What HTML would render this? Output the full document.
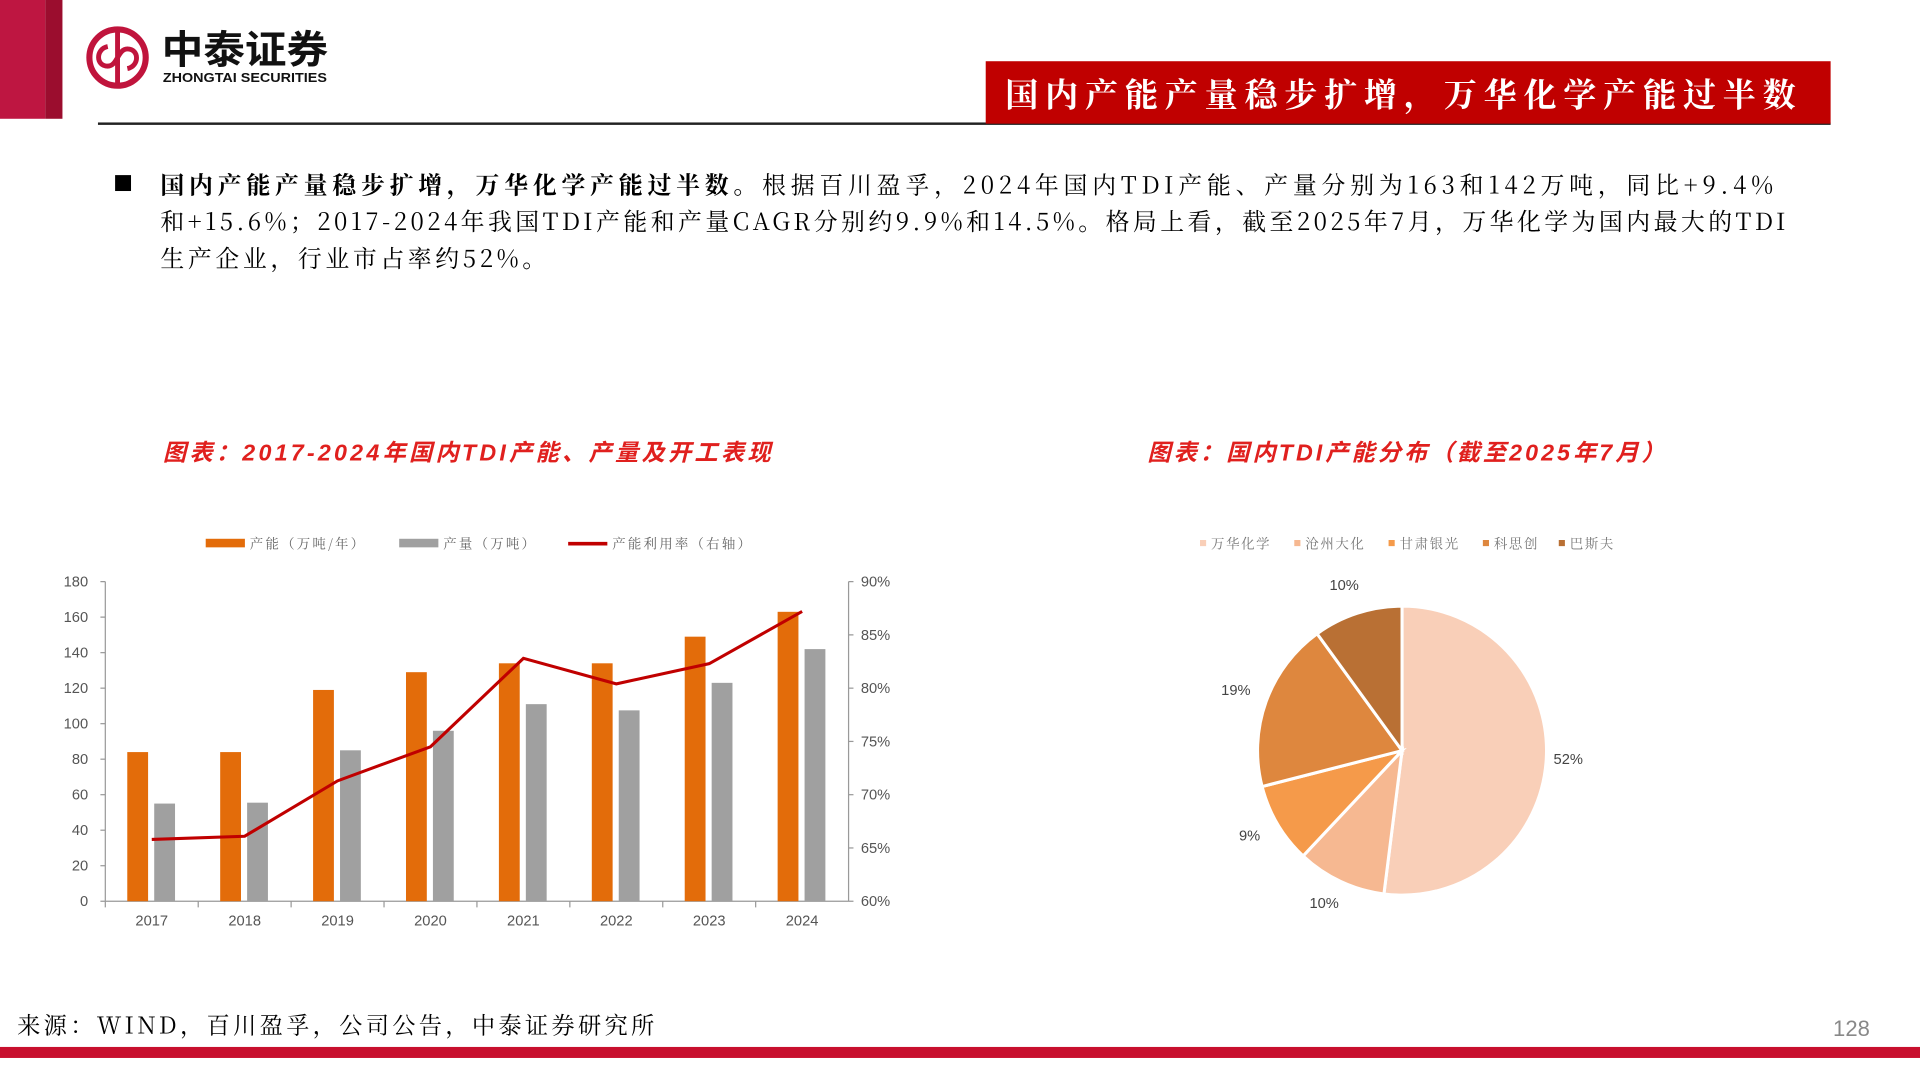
<!DOCTYPE html>
<html><head><meta charset="utf-8">
<style>
html,body{margin:0;padding:0;width:1920px;height:1080px;overflow:hidden;background:#fff}
#wrap{position:absolute;left:0;top:0;width:1568px;height:882px;transform:scale(1.22449);transform-origin:0 0;font-family:"Liberation Sans","Noto Sans CJK SC",sans-serif}
.abs{position:absolute}
.fit{white-space:nowrap}
.body{font-family:"Noto Serif CJK SC",serif;font-size:19.5px;color:#000;line-height:30px}
.ctitle{font-family:"Liberation Sans","Noto Sans CJK SC",sans-serif;font-style:italic;font-weight:bold;color:#E0201E;font-size:19px}
</style></head><body>
<div id="wrap">
<div class="abs" style="left:0;top:0;width:37px;height:97px;background:#BE1641"></div>
<div class="abs" style="left:37px;top:0;width:14px;height:97px;background:#9B0D2E"></div>
<svg class="abs" style="left:68px;top:20px" width="220" height="56">
<circle cx="28" cy="27" r="23" fill="none" stroke="#C0143C" stroke-width="5"/>
<path d="M28 6 V48 M20 18 C10 20 10 34 20 34 C28 34 28 20 36 20 C46 20 46 34 36 36" fill="none" stroke="#C0143C" stroke-width="4"/>
<text x="64" y="32" font-size="32" font-weight="bold" fill="#111" font-family="Noto Sans CJK SC,sans-serif" textLength="136" lengthAdjust="spacingAndGlyphs">中泰证券</text>
<text x="65" y="47" font-size="10.5" font-weight="bold" fill="#111" font-family="Liberation Sans,sans-serif" textLength="134" lengthAdjust="spacingAndGlyphs">ZHONGTAI SECURITIES</text>
</svg>
<div class="abs" style="left:80px;top:100px;width:1415px;height:2px;background:#222"></div>
<div class="abs" style="left:805px;top:50px;width:690px;height:51px;background:#C00000"></div>
<div class="abs fit" data-fit="651" style="left:821px;top:50px;color:#fff;font-family:'Noto Serif CJK SC',serif;font-weight:bold;font-size:27px;line-height:51px">国内产能产量稳步扩增，万华化学产能过半数</div>
<div class="abs" style="left:94px;top:143px;width:13px;height:13px;background:#000"></div>
<div class="abs body fit" data-fit="1321" style="left:131px;top:135px"><b>国内产能产量稳步扩增，万华化学产能过半数。</b>根据百川盈孚，2024年国内TDI产能、产量分别为163和142万吨，同比+9.4%</div>
<div class="abs body fit" data-fit="1330" style="left:131px;top:165px">和+15.6%；2017-2024年我国TDI产能和产量CAGR分别约9.9%和14.5%。格局上看，截至2025年7月，万华化学为国内最大的TDI</div>
<div class="abs body fit" data-fit="318" style="left:131px;top:195px">生产企业，行业市占率约52%。</div>
<div class="abs ctitle fit" data-fit="499" style="left:133px;top:355px">图表：2017-2024年国内TDI产能、产量及开工表现</div>
<div class="abs ctitle fit" data-fit="425" style="left:937px;top:355px">图表：国内TDI产能分布（截至2025年7月）</div>
<svg id="bar" class="abs" style="left:0;top:420px" width="780" height="350"></svg>
<svg id="pie" class="abs" style="left:940px;top:420px" width="440" height="340"></svg>
<div class="abs fit" data-fit="523" style="left:14px;top:823px;font-size:19px;font-family:'Noto Serif CJK SC',serif">来源：WIND，百川盈孚，公司公告，中泰证券研究所</div>
<div class="abs" style="left:1497px;top:830px;font-size:18px;color:#888">128</div>
<div class="abs" style="left:0;top:855px;width:1568px;height:9px;background:#C8102E"></div>
</div>
<script>
const NS='http://www.w3.org/2000/svg';
const years=['2017','2018','2019','2020','2021','2022','2023','2024'];
const capacity=[84,84,119,129,134,134,149,163];
const output=[55,55.5,85,96,111,107.5,123,142];
const utilization=[65.8,66.1,71.3,74.5,82.8,80.4,82.3,87.2];
const leftTicks=[0,20,40,60,80,100,120,140,160,180];
const rightTicks=[60,65,70,75,80,85,90];
const pieLabels=['万华化学','沧州大化','甘肃银光','科思创','巴斯夫'];
const pieValues=[52,10,9,19,10];
const pieColors=['#F9CFB8','#F6B891','#F59A4A','#DE873E','#B97034'];
function mk(p,t,a){const e=document.createElementNS(NS,t);for(const k in a)e.setAttribute(k,a[k]);p.appendChild(e);return e}
document.querySelectorAll('[data-fit]').forEach(el=>{
const target=+el.getAttribute('data-fit');const w=el.getBoundingClientRect().width/1.22449;
const n=el.textContent.length;el.style.letterSpacing=((target-w)/n)+'px';});
const bar=document.getElementById('bar');
const X0=86,X1=693,Y0=316,Y1=55;
const step=(X1-X0)/years.length;
const xc=i=>X0+step*(i+0.5);
const yl=v=>Y0-(v/180)*(Y0-Y1);
const yr=v=>Y0-((v-60)/30)*(Y0-Y1);
const ax=mk(bar,'g',{});

mk(ax,'line',{x1:X0,y1:Y1,x2:X0,y2:Y0,stroke:'#999'});
mk(ax,'line',{x1:X1,y1:Y1,x2:X1,y2:Y0,stroke:'#999'});
mk(ax,'line',{x1:X0,y1:Y0,x2:X1,y2:Y0,stroke:'#999'});
leftTicks.forEach(v=>{mk(ax,'line',{x1:X0-4,y1:yl(v),x2:X0,y2:yl(v),stroke:'#999'});
const t=mk(ax,'text',{x:X0-14,y:yl(v)+4,'text-anchor':'end','font-size':12,fill:'#555'});t.textContent=v;
});
rightTicks.forEach(v=>{mk(ax,'line',{x1:X1,y1:yr(v),x2:X1+4,y2:yr(v),stroke:'#999'});
const t=mk(ax,'text',{x:X1+10,y:yr(v)+4,'font-size':12,fill:'#555'});t.textContent=v+'%';
});
years.forEach((y,i)=>{mk(ax,'line',{x1:X0+step*i,y1:Y0,x2:X0+step*i,y2:Y0+5,stroke:'#999'});
const t=mk(ax,'text',{x:xc(i),y:Y0+20,'text-anchor':'middle','font-size':12,fill:'#555'});t.textContent=y;
});
years.forEach((y,i)=>{
const b=mk(bar,'rect',{x:xc(i)-20,y:yl(capacity[i]),width:17,height:Y0-yl(capacity[i]),fill:'#E36C0A'});

const g=mk(bar,'rect',{x:xc(i)+2,y:yl(output[i]),width:17,height:Y0-yl(output[i]),fill:'#A0A0A0'});
});
const ln=mk(bar,'polyline',{points:utilization.map((v,i)=>xc(i)+','+yr(v)).join(' '),fill:'none',stroke:'#C00000','stroke-width':2.5});

const lg=[['rect','#E36C0A','产能（万吨/年）',168],['rect','#A0A0A0','产量（万吨）',326],['line','#C00000','产能利用率（右轴）',464]];
lg.forEach(l=>{const g=mk(bar,'g',{});
if(l[0]=='rect')mk(g,'rect',{x:l[3],y:20,width:32,height:7,fill:l[1]});else mk(g,'line',{x1:l[3],y1:24,x2:l[3]+32,y2:24,stroke:l[1],'stroke-width':3});
const t=mk(g,'text',{x:l[3]+36,y:28,'font-size':11,fill:'#666','font-family':'Noto Serif CJK SC,serif','letter-spacing':1.8});t.textContent=l[2];});
const pie=document.getElementById('pie');
const cx=205,cy=193,R=118;
const tot=pieValues.reduce((a,b)=>a+b,0);
let a0=0;
pieValues.forEach((v,i)=>{const a1=a0+v/tot*2*Math.PI;
const p=(a)=>[cx+R*Math.sin(a),cy-R*Math.cos(a)];
const s=p(a0),e=p(a1);
const path=mk(pie,'path',{d:`M${cx},${cy} L${s[0]},${s[1]} A${R},${R} 0 ${a1-a0>Math.PI?1:0} 1 ${e[0]},${e[1]} Z`,fill:pieColors[i],stroke:'#fff','stroke-width':2.5});

const m=(a0+a1)/2,r2=R+22;
const t=mk(pie,'text',{x:cx+r2*Math.sin(m)-4,y:cy-r2*Math.cos(m)+2,'text-anchor':'middle','font-size':12,fill:'#444'});t.textContent=v+'%';

a0=a1;});
let lx=40;
pieLabels.forEach((l,i)=>{const g=mk(pie,'g',{});
mk(g,'rect',{x:lx,y:21,width:5,height:5,fill:pieColors[i]});
const t=mk(g,'text',{x:lx+9,y:28,'font-size':11,fill:'#777','font-family':'Noto Serif CJK SC,serif','letter-spacing':1.3});t.textContent=l;
lx+= l.length==3?62:77;});
</script>
</body></html>
